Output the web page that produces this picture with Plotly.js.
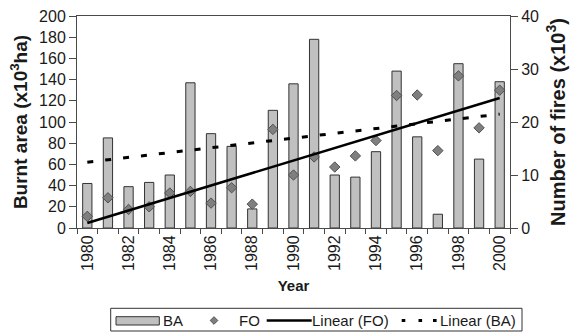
<!DOCTYPE html>
<html>
<head>
<meta charset="utf-8">
<script src="https://cdn.plot.ly/plotly-3.0.1.min.js"></script>
<style>
html,body{margin:0;padding:0;background:#fff;}
#chart{width:573px;height:334px;}
</style>
</head>
<body>
<div id="chart"></div>
<script>
// ---- Data ----
const years = [1980,1981,1982,1983,1984,1985,1986,1987,1988,1989,1990,1991,1992,1993,1994,1995,1996,1997,1998,1999,2000];
// Burnt area (x10^3 ha)
const ba = [42,85,39,43,50,137,89,77,18,111,136,178,50,48,72,148,86,13,155,65,138];
// Number of fires (x10^3)
const fo = [2.2,5.7,3.5,4.0,6.6,6.9,4.7,7.6,4.5,18.6,10.0,13.4,11.5,13.6,16.5,25.0,25.1,14.6,28.7,18.9,26.0];
const xTickVals = [1980,1982,1984,1986,1988,1990,1992,1994,1996,1998,2000];
const xTickText = ["1980","1982","1984","1986","1988","1990","1992","1994","1996","1998","2000"];
const leftTicks = [0,20,40,60,80,100,120,140,160,180,200];
const rightTicks = [0,10,20,30,40];
const legendLabels = ["BA","FO","Linear (FO)","Linear (BA)"];

// Least-squares linear trendline (as in the original "Linear" trendlines)
function linfit(xs, ys){
  const n = xs.length;
  const mx = xs.reduce((a,b)=>a+b,0)/n, my = ys.reduce((a,b)=>a+b,0)/n;
  let sxy=0, sxx=0;
  for(let i=0;i<n;i++){ sxy += (xs[i]-mx)*(ys[i]-my); sxx += (xs[i]-mx)*(xs[i]-mx); }
  const m = sxy/sxx, c = my - m*mx;
  return xs.map(x => m*x + c);
}
const foFit = linfit(years, fo);
const baFit = linfit(years, ba);

const FONT = "Liberation Sans, Arial, Helvetica, sans-serif";
const INK = "#1a1a1a";
const AX = "#4a4a4a";

const traces = [
  {type:'bar', x:years, y:ba, yaxis:'y', width:0.45, name:legendLabels[0],
   marker:{color:'#c0c0c0', line:{color:'#333333', width:1}}, showlegend:false, hoverinfo:'x+y'},
  {type:'scatter', mode:'lines', x:years, y:baFit, yaxis:'y', name:legendLabels[3],
   line:{color:'#000', width:3, dash:'6px,12px'}, showlegend:false},
  {type:'scatter', mode:'markers', x:years, y:fo, yaxis:'y2', name:legendLabels[1],
   marker:{symbol:'diamond', size:8, color:'#7f7f7f', line:{color:'#505050', width:1}}, showlegend:false},
  {type:'scatter', mode:'lines', x:years, y:foFit, yaxis:'y2', name:legendLabels[2],
   line:{color:'#000', width:2.5}, showlegend:false}
];

// Pixel helpers for the hand-drawn legend (paper coords)
const M = {l:77, r:63, t:16, b:106};
const PW = 573 - M.l - M.r, PH = 334 - M.t - M.b;
const px = v => (v - M.l)/PW;
const py = v => (M.t + PH - v)/PH;

const legY = 320.5;
const shapes = [
  {type:'rect', xref:'paper', yref:'paper', x0:px(110.7), x1:px(522), y0:py(331), y1:py(308.3),
   line:{color:'#333', width:1}, fillcolor:'#fff', layer:'above'},
  {type:'rect', xref:'paper', yref:'paper', x0:px(116), x1:px(159.3), y0:py(325), y1:py(316.7),
   line:{color:'#333', width:1}, fillcolor:'#c0c0c0', layer:'above'},
  {type:'path', xref:'paper', yref:'paper', layer:'above',
   path:`M ${px(214)},${py(legY-3.8)} L ${px(217.8)},${py(legY)} L ${px(214)},${py(legY+3.8)} L ${px(210.2)},${py(legY)} Z`,
   fillcolor:'#7f7f7f', line:{color:'#505050', width:1}},
  {type:'line', xref:'paper', yref:'paper', x0:px(266.7), x1:px(311.7), y0:py(legY), y1:py(legY),
   line:{color:'#000', width:2.5}, layer:'above'},
  {type:'line', xref:'paper', yref:'paper', x0:px(401.7), x1:px(405.3), y0:py(legY), y1:py(legY),
   line:{color:'#000', width:3}, layer:'above'},
  {type:'line', xref:'paper', yref:'paper', x0:px(418.5), x1:px(422.1), y0:py(legY), y1:py(legY),
   line:{color:'#000', width:3}, layer:'above'},
  {type:'line', xref:'paper', yref:'paper', x0:px(433), x1:px(436.6), y0:py(legY), y1:py(legY),
   line:{color:'#000', width:3}, layer:'above'}
];
const legText = (t, x) => ({xref:'paper', yref:'paper', x:px(x), y:py(legY), xanchor:'left', yanchor:'middle',
  text:t, showarrow:false, font:{family:FONT, size:15, color:INK}, borderpad:0});
const annotations = [
  legText(legendLabels[0], 162),
  legText(legendLabels[1], 238),
  legText(legendLabels[2], 311),
  legText(legendLabels[3], 439)
];

const layout = {
  width:573, height:334,
  margin:M,
  paper_bgcolor:'#fff', plot_bgcolor:'#fff',
  showlegend:false,
  bargap:0.55,
  xaxis:{
    range:[1979.5, 2000.5], tickmode:'array', tickvals:xTickVals, ticktext:xTickText,
    ticks:'', tickangle:-90, tickfont:{family:FONT, size:16, color:INK},
    showline:true, linecolor:AX, linewidth:1, mirror:true, showgrid:false, zeroline:false,
    minor:{tick0:1979.5, dtick:1, ticks:'outside', ticklen:5, tickcolor:AX, tickwidth:1, showgrid:false},
    title:{text:'Year', font:{family:FONT, size:15, color:INK, weight:'bold'}, standoff:10},
    automargin:false
  },
  yaxis:{
    range:[0,200], tickmode:'array', tickvals:leftTicks, ticks:'outside', ticklen:7, tickcolor:AX,
    tickfont:{family:FONT, size:16, color:INK},
    showline:true, linecolor:AX, linewidth:1, showgrid:false, zeroline:false,
    title:{text:'Burnt area (x10<sup>3</sup>ha)', font:{family:FONT, size:19, color:INK, weight:'bold'}, standoff:6},
    automargin:false
  },
  yaxis2:{
    range:[0,40], overlaying:'y', side:'right', tickmode:'array', tickvals:rightTicks,
    ticks:'outside', ticklen:7, tickcolor:AX,
    tickfont:{family:FONT, size:16, color:INK},
    showline:true, linecolor:AX, linewidth:1, showgrid:false, zeroline:false,
    title:{text:'Number of fires (x10<sup>3</sup>)', font:{family:FONT, size:20, color:INK, weight:'bold'}, standoff:12},
    automargin:false
  },
  shapes:shapes,
  annotations:annotations
};

Plotly.newPlot('chart', traces, layout, {displayModeBar:false, staticPlot:true});
</script>
</body>
</html>
